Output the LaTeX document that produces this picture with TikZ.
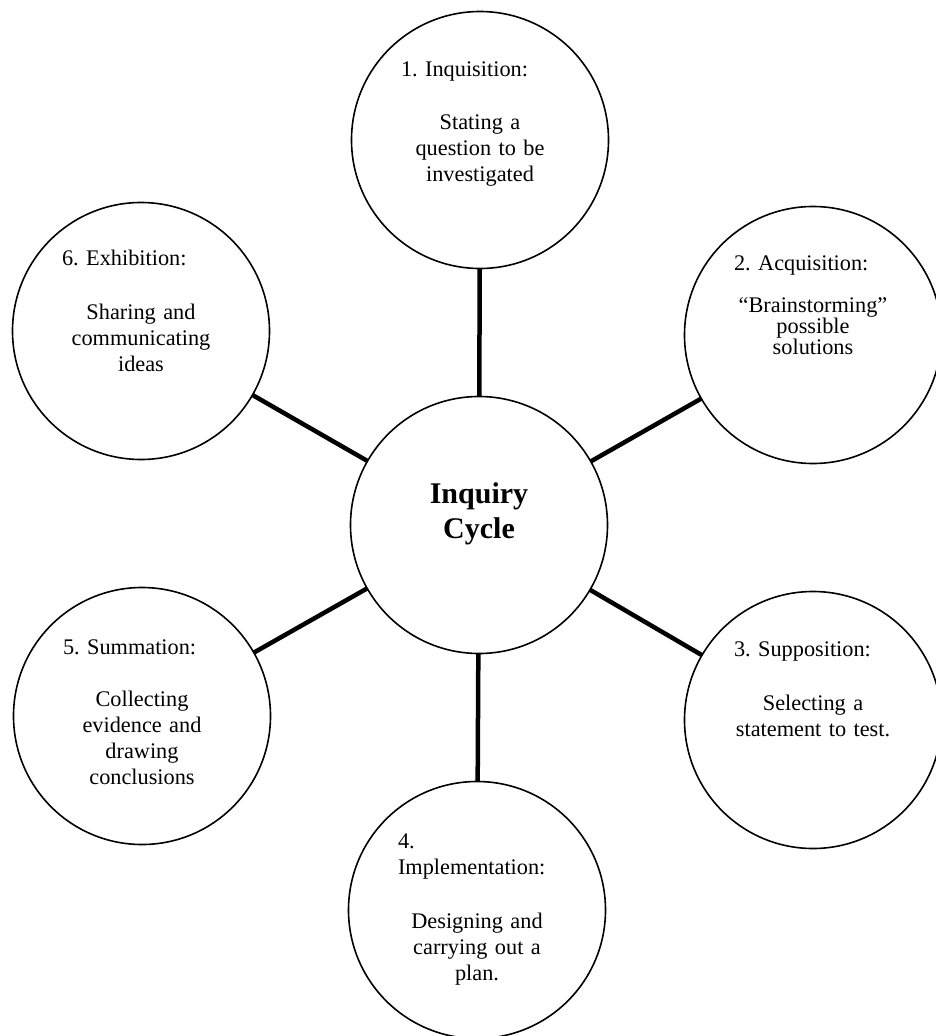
\documentclass[tikz,border=0pt]{standalone}
\usepackage{fontspec}
\setmainfont{Liberation Serif}
\usetikzlibrary{positioning}
\begin{document}
\begin{tikzpicture}[x=1pt,y=-1pt]
\tikzstyle{every node}+=[inner sep=0pt, outer sep=0pt]
\tikzstyle{stage}=[draw=black, circle, line width=1.6pt, minimum size=257pt]
\tikzstyle{stagetext}=[text width=158pt, font=\fontsize{22.3}{26}\selectfont\frenchspacing]
\tikzstyle{spoke}=[black, line width=4.5pt]
\useasboundingbox (0,0) rectangle (935,1036);
\node [stage] (hub) at (479,525) {};
\node [font=\bfseries\fontsize{30}{35}\selectfont, align=center] (hubtext) at (479,514) {Inquiry\\Cycle};
\node [stage] (inq) at (480,140) {};
\node [stagetext, below=50pt of inq.north] (inqtext) {\raggedright 1. Inquisition:\par\vspace{27pt}\centering Stating a\\question to be\\investigated\par};
\node [stage] (acq) at (813,335) {};
\node [stagetext, below=49pt of acq.north] (acqtext) {\raggedright 2. Acquisition:\par\vspace{22pt}\fontsize{22.3}{20}\selectfont\centering ``Brainstorming''\\possible\\solutions\par};
\node [stage] (sup) at (813,720) {};
\node [stagetext, below=50pt of sup.north] (suptext) {\raggedright 3. Supposition:\par\vspace{28pt}\centering Selecting a\\statement to test.\par};
\node [stage] (imp) at (477,910) {};
\node [stagetext, below=52pt of imp.north] (imptext) {\raggedright 4.\\Implementation:\par\vspace{28pt}\centering Designing and\\carrying out a\\plan.\par};
\node [stage] (sum) at (142,716) {};
\node [stagetext, below=52pt of sum.north] (sumtext) {\raggedright 5. Summation:\par\vspace{26pt}\centering Collecting\\evidence and\\drawing\\conclusions\par};
\node [stage] (exh) at (141,331) {};
\node [stagetext, below=48pt of exh.north] (exhtext) {\raggedright 6. Exhibition:\par\vspace{28pt}\centering Sharing and\\communicating\\ideas\par};
\draw [spoke] (hub) -- (inq);
\draw [spoke] (hub) -- (acq);
\draw [spoke] (hub) -- (sup);
\draw [spoke] (hub) -- (imp);
\draw [spoke] (hub) -- (sum);
\draw [spoke] (hub) -- (exh);
\end{tikzpicture}
\end{document}
